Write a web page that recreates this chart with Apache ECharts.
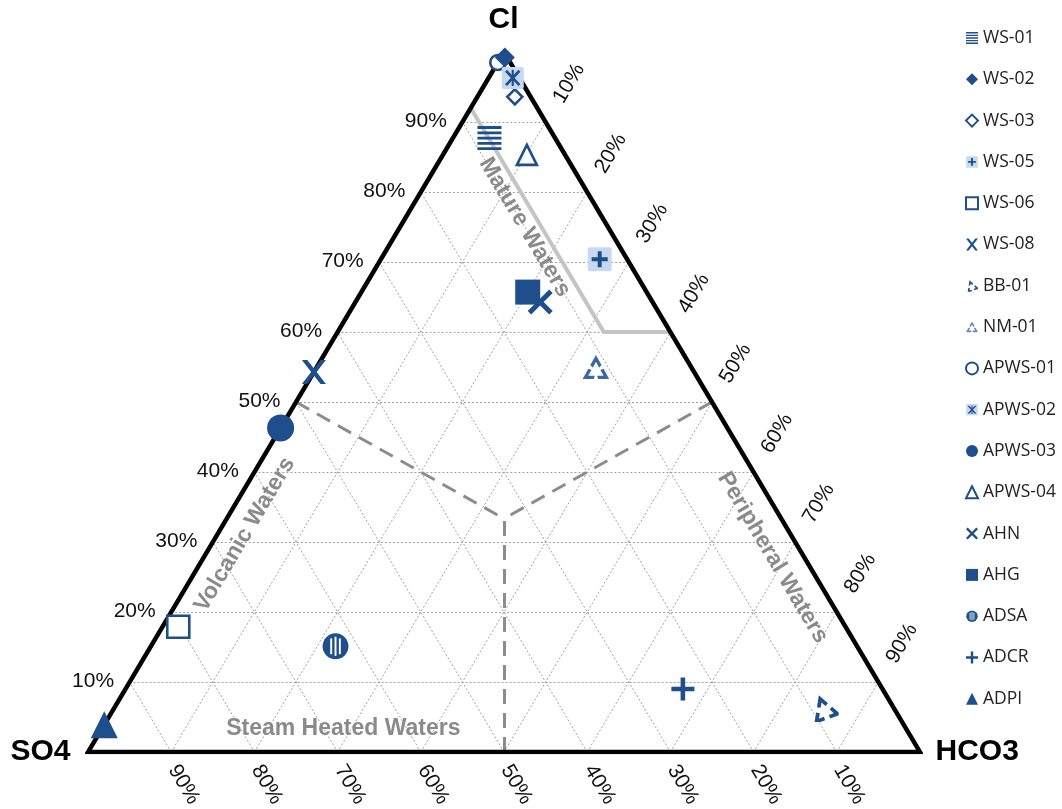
<!DOCTYPE html>
<html>
<head>
<meta charset="utf-8">
<script src="https://cdn.jsdelivr.net/npm/echarts@6/dist/echarts.min.js"></script>
<style>
  html, body { margin: 0; padding: 0; background: #fff; }
  #chart { width: 1062px; height: 809px; }
</style>
</head>
<body>
<div id="chart"></div>
<script>
// ---- data: relative Cl / SO4 / HCO3 content (%) of each water sample ----
const samples = ['WS-01', 'WS-02', 'WS-03', 'WS-05', 'WS-06', 'WS-08', 'BB-01', 'NM-01',
  'APWS-01', 'APWS-02', 'APWS-03', 'APWS-04', 'AHN', 'AHG', 'ADSA', 'ADCR', 'ADPI'];
const clPct   = [87.7, 99.2, 93.6, 70.4, 17.9, 54.3,  6.3, 54.9, 98.5, 96.3, 46.3, 85.3, 64.3, 65.7, 15.1,  9.0,  3.9];
const so4Pct  = [ 7.9,  0.3,  1.9,  3.3, 80.2, 45.7,  8.3, 11.5,  1.5,  0.8, 53.7,  4.6, 13.5, 14.3, 62.7, 24.0, 96.1];
const hco3Pct = [ 4.4,  0.5,  4.5, 26.3,  1.9,  0.0, 85.4, 33.6,  0.0,  2.9,  0.0, 10.1, 22.2, 20.0, 22.2, 67.0,  0.0];

const tickValues = [10, 20, 30, 40, 50, 60, 70, 80, 90];
const tickLabels = ['10%', '20%', '30%', '40%', '50%', '60%', '70%', '80%', '90%'];
const vertexNames = ['Cl', 'SO4', 'HCO3'];
const zoneNames = ['Mature Waters', 'Volcanic Waters', 'Peripheral Waters', 'Steam Heated Waters'];

// field boundaries, as [Cl, SO4, HCO3]
const matureBoundary = [[92, 8, 0], [60, 8, 32], [60, 0, 40]];
const centroid = [100 / 3, 100 / 3, 100 / 3];
const zoneDividers = [[[50, 50, 0], centroid], [[50, 0, 50], centroid], [[0, 50, 50], centroid]];

// ---- layout ----
const W = 1062, H = 809;
const GRID = { left: 88, right: 142, top: 52, bottom: 57 };
const plotW = W - GRID.left - GRID.right;
const plotH = H - GRID.top - GRID.bottom;
const edgeAngle = Math.atan2(plotH, plotW / 2) * 180 / Math.PI;
const zoneLabelAt = [[74.9, 10.0, 15.1], [31.0, 65.6, 3.4], [27.7, 3.8, 68.5], [3.3, 67.6, 29.1]];
const zoneLabelRotate = [-edgeAngle, edgeAngle, -edgeAngle, 0];

const BLUE = '#1f4e8c';
const LIGHT = '#c5d9f1';
const GREY_TEXT = '#8a8a8a';

// ternary -> cartesian (x: 0..100 from SO4 to HCO3 corner, y: Cl %)
function tern(cl, so4, hco3) {
  const t = cl + so4 + hco3;
  return [(hco3 + cl / 2) / t * 100, cl / t * 100];
}
// move a data point by a pixel offset
function shift(pt, dx, dy) {
  return [pt[0] + dx * 100 / plotW, pt[1] - dy * 100 / plotH];
}

// ---- marker shapes ----
function svgSymbol(inner) {
  const svg = '<svg xmlns="http://www.w3.org/2000/svg" width="96" height="96" viewBox="0 0 24 24">' + inner + '</svg>';
  return 'image://data:image/svg+xml;charset=utf-8,' + encodeURIComponent(svg);
}
function cornerPieces(scale, frac, rot) {
  const P = [[12, 2], [1.2, 21.5], [22.8, 21.5]];
  const G = [12, (2 + 21.5 + 21.5) / 3];
  const c = Math.cos(rot || 0), s0 = Math.sin(rot || 0);
  const Q = P.map(p => {
    const dx = scale * (p[0] - G[0]), dy = scale * (p[1] - G[1]);
    return [G[0] + dx * c - dy * s0, G[1] + dx * s0 + dy * c];
  });
  let d = '';
  for (let i = 0; i < 3; i++) {
    const v = Q[i], a = Q[(i + 1) % 3], b = Q[(i + 2) % 3];
    const s = [v[0] + frac * (a[0] - v[0]), v[1] + frac * (a[1] - v[1])];
    const e = [v[0] + frac * (b[0] - v[0]), v[1] + frac * (b[1] - v[1])];
    d += 'M' + s[0].toFixed(2) + ' ' + s[1].toFixed(2) + 'L' + v[0].toFixed(2) + ' ' + v[1].toFixed(2) +
         'L' + e[0].toFixed(2) + ' ' + e[1].toFixed(2);
  }
  return d;
}

const PATH_LINES = 'path://M0,0H20V2.4H0Z M0,4.4H20V6.8H0Z M0,8.8H20V11.2H0Z M0,13.2H20V15.6H0Z M0,17.6H20V20H0Z';
const PATH_X = 'path://M0,2.8L2.8,0L10,7.2L17.2,0L20,2.8L12.8,10L20,17.2L17.2,20L10,12.8L2.8,20L0,17.2L7.2,10Z';
const PATH_X_FLAT = 'path://M0,0L4.5,0L10,7.1L15.5,0L20,0L12.25,10L20,20L15.5,20L10,12.9L4.5,20L0,20L7.75,10Z';
const PATH_PLUS = 'path://M8,0H12V8H20V12H12V20H8V12H0V8H8Z';

const SYM_PLUS_BOX = svgSymbol(
  '<rect x="0.5" y="0.5" width="23" height="23" rx="2" fill="' + LIGHT + '"/>' +
  '<path d="M10.1 4.3h3.8v5.8h5.8v3.8h-5.8v5.8h-3.8v-5.8h-5.8v-3.8h5.8z" fill="' + BLUE + '"/>');
const SYM_STAR_BOX = svgSymbol(
  '<rect x="0.5" y="0.5" width="23" height="23" rx="2" fill="' + LIGHT + '"/>' +
  '<g stroke="' + BLUE + '" stroke-width="2.8"><path d="M5 4.5L19 19.5M19 4.5L5 19.5"/>' +
  '<path d="M12 3.5V20.5" stroke-width="2.2"/></g>');
const SYM_BROKEN_TRI = svgSymbol(
  '<path d="' + cornerPieces(0.88, 0.38, -0.35) + '" fill="none" stroke="' + BLUE +
  '" stroke-width="3.2" stroke-linejoin="miter"/>');
const SYM_HATCH_TRI = svgSymbol(
  '<path d="' + cornerPieces(1, 0.42) + cornerPieces(0.86, 0.42) + cornerPieces(0.72, 0.42) +
  '" fill="none" stroke="#3d68a6" stroke-width="1.2"/>');
const SYM_STRIPED_CIRCLE = svgSymbol(
  '<circle cx="12" cy="12" r="11.5" fill="' + BLUE + '"/>' +
  '<rect x="7.3" y="5" width="1.7" height="14" fill="#fff"/>' +
  '<rect x="11.15" y="3.5" width="1.7" height="17" fill="#fff"/>' +
  '<rect x="15" y="5" width="1.7" height="14" fill="#fff"/>');

// marker look of each sample
const markerStyles = {
  'WS-01':   { symbol: PATH_LINES, size: 24 },
  'WS-02':   { symbol: 'diamond', size: 20 },
  'WS-03':   { symbol: 'diamond', size: 15, open: true },
  'WS-05':   { symbol: SYM_PLUS_BOX, size: 25 },
  'WS-06':   { symbol: 'rect', size: 22, open: true },
  'WS-08':   { symbol: PATH_X_FLAT, size: 24 },
  'BB-01':   { symbol: SYM_BROKEN_TRI, size: 28 },
  'NM-01':   { symbol: SYM_HATCH_TRI, size: 27 },
  'APWS-01': { symbol: 'circle', size: 15, open: true, z: 4 },
  'APWS-02': { symbol: SYM_STAR_BOX, size: 23 },
  'APWS-03': { symbol: 'circle', size: 27 },
  'APWS-04': { symbol: 'triangle', size: 20, open: true },
  'AHN':     { symbol: PATH_X, size: 25 },
  'AHG':     { symbol: 'rect', size: 25 },
  'ADSA':    { symbol: SYM_STRIPED_CIRCLE, size: 27 },
  'ADCR':    { symbol: PATH_PLUS, size: 23 },
  'ADPI':    { symbol: 'triangle', size: 27 }
};

// ---- line work ----
const gridSegs = [];
tickValues.forEach(v => {
  gridSegs.push({ coords: [tern(v, 100 - v, 0), tern(v, 0, 100 - v)] });   // constant Cl
  gridSegs.push({ coords: [tern(0, 100 - v, v), tern(100 - v, 0, v)] });   // constant HCO3
  gridSegs.push({ coords: [tern(0, v, 100 - v), tern(100 - v, v, 0)] });   // constant SO4
});

const cornerCl = tern(100, 0, 0), cornerSO4 = tern(0, 100, 0), cornerHCO3 = tern(0, 0, 100);
const outline = [tern(0, 50, 50), cornerHCO3, cornerCl, cornerSO4, tern(0, 50, 50)];

function textSeries(items) {
  return {
    type: 'scatter', silent: true, clip: false, z: 8,
    symbol: 'circle', symbolSize: 1,
    itemStyle: { color: 'rgba(255,255,255,0)' },
    data: items.map(it => ({
      name: it.text, value: it.pos,
      label: Object.assign({
        show: true, position: [0, 0], formatter: '{b}', distance: 0,
        align: 'center', verticalAlign: 'middle', opacity: 1,
        textBorderWidth: 0, textShadowBlur: 0
      }, it.style)
    }))
  };
}

const tickFont = { fontFamily: 'Liberation Sans', fontSize: 21, color: '#111' };
const leftTicks = tickValues.map((v, i) => ({
  text: tickLabels[i], pos: shift(tern(v, 100 - v, 0), -15, 0),
  style: Object.assign({ align: 'right' }, tickFont)
}));
const rightTicks = tickValues.map((v, i) => ({
  text: tickLabels[i], pos: shift(tern(100 - v, 0, v), 24, -38),
  style: Object.assign({ rotate: edgeAngle }, tickFont)
}));
const bottomTicks = tickValues.map((v, i) => ({
  text: tickLabels[i], pos: shift(tern(0, v, 100 - v), 13, 33),
  style: Object.assign({ rotate: -edgeAngle }, tickFont)
}));
const vertexFont = { fontFamily: 'Liberation Sans', fontSize: 30, fontWeight: 'bold', color: '#000' };
const vertexLabels = [
  { text: vertexNames[0], pos: shift(cornerCl, 0, -32), style: vertexFont },
  { text: vertexNames[1], pos: shift(cornerSO4, -17, 0), style: Object.assign({ align: 'right' }, vertexFont) },
  { text: vertexNames[2], pos: shift(cornerHCO3, 16, 0), style: Object.assign({ align: 'left' }, vertexFont) }
];
const zoneLabels = zoneNames.map((t, i) => ({
  text: t, pos: tern.apply(null, zoneLabelAt[i]),
  style: { rotate: zoneLabelRotate[i], fontFamily: 'Liberation Sans', fontSize: 23, fontWeight: 'bold', color: GREY_TEXT }
}));

const sampleSeries = samples.map((name, i) => {
  const m = markerStyles[name];
  return {
    type: 'scatter', name, clip: false, z: m.z || 5,
    symbol: m.symbol, symbolSize: m.size,
    itemStyle: m.open
      ? { color: '#fff', borderColor: BLUE, borderWidth: 2.6, opacity: 1 }
      : { color: BLUE, opacity: 1 },
    data: [tern(clPct[i], so4Pct[i], hco3Pct[i])]
  };
});

const chart = echarts.init(document.getElementById('chart'), null, { renderer: 'canvas' });
chart.setOption({
  animation: false,
  backgroundColor: '#fff',
  grid: GRID,
  xAxis: { type: 'value', min: 0, max: 100, show: false },
  yAxis: { type: 'value', min: 0, max: 100, show: false },
  legend: {
    orient: 'vertical', left: 960, top: 23,
    itemWidth: 12, itemHeight: 12, itemGap: 21.3,
    data: samples,
    textStyle: { fontFamily: 'Open Sans', fontSize: 17.5, color: '#222', lineHeight: 20 }
  },
  series: [
    {
      type: 'lines', coordinateSystem: 'cartesian2d', silent: true, z: 1,
      lineStyle: { color: '#a0a0a0', width: 1, type: [2, 2], opacity: 1 },
      data: gridSegs
    },
    {
      type: 'lines', coordinateSystem: 'cartesian2d', silent: true, z: 2,
      lineStyle: { color: '#8c8c8c', width: 3, type: [15, 9], opacity: 1 },
      data: zoneDividers.map(seg => ({ coords: seg.map(p => tern.apply(null, p)) }))
    },
    {
      type: 'lines', coordinateSystem: 'cartesian2d', polyline: true, silent: true, z: 2,
      lineStyle: { color: '#c4c4c4', width: 4, opacity: 1 },
      data: [{ coords: matureBoundary.map(p => tern.apply(null, p)) }]
    },
    {
      type: 'lines', coordinateSystem: 'cartesian2d', polyline: true, silent: true, z: 3,
      lineStyle: { color: '#000', width: 4.5, opacity: 1, join: 'miter' },
      data: [{ coords: outline }]
    },
    textSeries(zoneLabels),
    textSeries(leftTicks),
    textSeries(rightTicks),
    textSeries(bottomTicks),
    textSeries(vertexLabels)
  ].concat(sampleSeries)
});
</script>
</body>
</html>
